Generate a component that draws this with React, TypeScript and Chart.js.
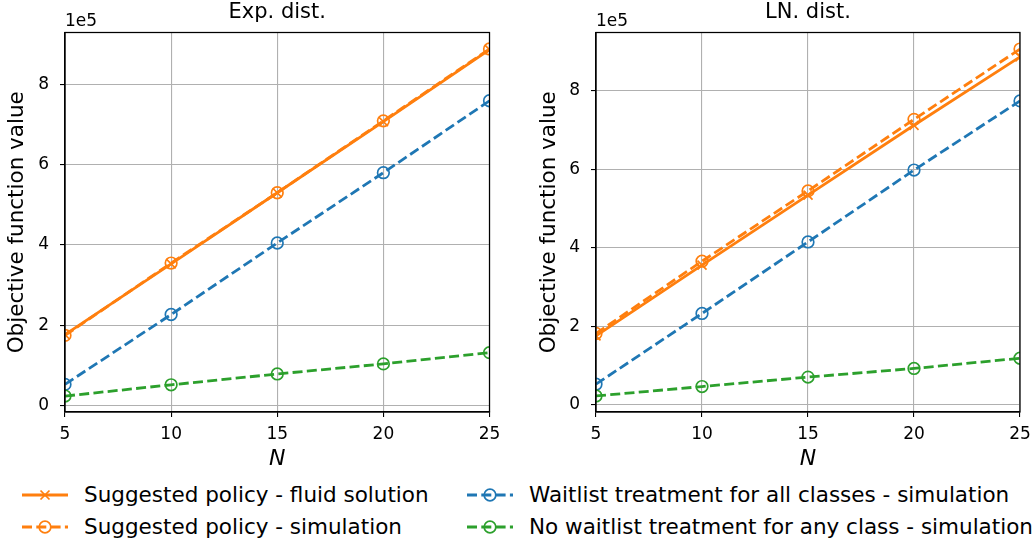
import React, { useEffect, useRef } from "react";
import { Chart, registerables } from "chart.js";

Chart.register(...registerables);

const nValues = [5, 10, 15, 20, 25];
const xTickValues = [5, 10, 15, 20, 25];
const yTickValues = [0, 200000, 400000, 600000, 800000];

const expFluid = [177000, 353000, 530000, 707000, 886000];
const expSim = [175000, 355000, 530000, 709000, 888000];
const expWaitAll = [53000, 227000, 405000, 580000, 759000];
const expNoWait = [24000, 52000, 79000, 104000, 132000];

const lnFluid = [176000, 356000, 534000, 712000, 886000];
const lnSim = [182000, 366000, 545000, 727000, 906000];
const lnWaitAll = [53000, 233000, 415000, 598000, 774000];
const lnNoWait = [23000, 47000, 71000, 93000, 119000];

const seriesLabels = [
  "Suggested policy - fluid solution",
  "Suggested policy - simulation",
  "Waitlist treatment for all classes - simulation",
  "No waitlist treatment for any class - simulation",
];

const ORANGE = "#ff7f0e";
const BLUE = "#1f77b4";
const GREEN = "#2ca02c";
const FONT = '"DejaVu Sans", sans-serif';
const DASH = [10, 4.3];
const LW = 2.8;

const framePlugin = {
  id: "frame",
  afterDatasetsDraw(chart: any, _args: any, opts: any) {
    const { ctx, chartArea: a } = chart;
    ctx.save();
    ctx.strokeStyle = "#000";
    ctx.lineWidth = 1.25;
    ctx.strokeRect(a.left, a.top, a.right - a.left, a.bottom - a.top);
    ctx.font = "17px " + FONT;
    ctx.fillStyle = "#000";
    ctx.textAlign = "left";
    ctx.textBaseline = "alphabetic";
    ctx.fillText("1e5", a.left, a.top - 6.5);
    ctx.font = "21px " + FONT;
    ctx.textAlign = "center";
    ctx.textBaseline = "middle";
    ctx.fillText(opts.title || "", (a.left + a.right) / 2, 12.8);
    ctx.restore();
  },
};

function toPts(ys: number[]) {
  return nValues.map((x, i) => ({ x, y: ys[i] }));
}

function makeDatasets(fluid: number[], sim: number[], waitAll: number[], noWait: number[]) {
  const circle = (color: string) => ({
    borderColor: color,
    backgroundColor: "rgba(0,0,0,0)",
    pointBackgroundColor: "rgba(0,0,0,0)",
    pointBorderColor: color,
    pointStyle: "circle",
    pointRadius: 5.8,
    pointBorderWidth: 1.7,
    borderWidth: LW,
    borderDash: DASH,
    clip: 0,
  });
  return [
    { label: seriesLabels[3], data: toPts(noWait), ...circle(GREEN), order: 1 },
    { label: seriesLabels[2], data: toPts(waitAll), ...circle(BLUE), order: 2 },
    { label: seriesLabels[1], data: toPts(sim), ...circle(ORANGE), order: 3 },
    {
      label: seriesLabels[0],
      data: toPts(fluid),
      borderColor: ORANGE,
      backgroundColor: "rgba(0,0,0,0)",
      pointBorderColor: ORANGE,
      pointBackgroundColor: "rgba(0,0,0,0)",
      pointStyle: "crossRot",
      pointRadius: 6.4,
      pointBorderWidth: 1.7,
      borderWidth: LW,
      clip: 0,
      order: 4,
    },
  ];
}

type PanelProps = {
  title: string;
  left: number;
  width: number;
  axisWidth: number;
  padRight: number;
  yTitlePad: number;
  yMin: number;
  yMax: number;
  fluid: number[];
  sim: number[];
  waitAll: number[];
  noWait: number[];
};

function Panel(p: PanelProps) {
  const ref = useRef<HTMLCanvasElement | null>(null);
  useEffect(() => {
    if (!ref.current) return;
    const chart = new Chart(ref.current, {
      type: "line",
      data: { datasets: makeDatasets(p.fluid, p.sim, p.waitAll, p.noWait) as any },
      options: {
        responsive: false,
        animation: false,
        devicePixelRatio: 1,
        layout: { padding: { left: 0, right: p.padRight, top: 32.5, bottom: 0 } },
        plugins: {
          legend: { display: false },
          tooltip: { enabled: false },
          title: { display: false },
          frame: { title: p.title },
        } as any,
        scales: {
          x: {
            type: "linear",
            min: 5,
            max: 25,
            afterBuildTicks: (s: any) => {
              s.ticks = xTickValues.map((v) => ({ value: v }));
            },
            afterFit: (s: any) => {
              s.height = 58;
              s.paddingLeft = 0;
              s.paddingRight = 0;
            },
            ticks: {
              color: "#000",
              font: { family: FONT, size: 17 },
              padding: 7,
              maxRotation: 0,
              callback: (v: any) => String(v),
            },
            grid: { color: "#b0b0b0", lineWidth: 1.1, tickColor: "#000", tickLength: 5, tickWidth: 1.1 },
            border: { display: true, color: "#000", width: 1.25 },
            title: {
              display: true,
              text: "N",
              color: "#000",
              font: { family: FONT, size: 22, style: "italic", lineHeight: 1 },
              padding: { top: 0, bottom: 0 },
            },
          },
          y: {
            type: "linear",
            min: p.yMin,
            max: p.yMax,
            afterBuildTicks: (s: any) => {
              s.ticks = yTickValues.map((v) => ({ value: v }));
            },
            afterFit: (s: any) => {
              s.width = p.axisWidth;
              s.paddingTop = 0;
              s.paddingBottom = 0;
            },
            ticks: {
              color: "#000",
              font: { family: FONT, size: 17 },
              padding: 11,
              callback: (v: any) => String(Math.round(Number(v) / 1e5)),
            },
            grid: { color: "#b0b0b0", lineWidth: 1.1, tickColor: "#000", tickLength: 5, tickWidth: 1.1 },
            border: { display: true, color: "#000", width: 1.25 },
            title: {
              display: true,
              text: "Objective function value",
              color: "#000",
              font: { family: FONT, size: 21.5, lineHeight: 1 },
              padding: { top: p.yTitlePad, bottom: 0 },
            },
          },
        },
      },
      plugins: [framePlugin],
    });
    return () => chart.destroy();
  }, []);
  return (
    <canvas
      ref={ref}
      width={p.width}
      height={470}
      style={{ position: "absolute", left: p.left, top: 0, width: p.width, height: 470 }}
    />
  );
}

function LegendHandle({ color, kind }: { color: string; kind: "cross" | "circle" }) {
  return (
    <svg width={46} height={20} style={{ position: "absolute", left: 0, top: -10 }}>
      <line
        x1={0}
        y1={10}
        x2={46}
        y2={10}
        stroke={color}
        strokeWidth={LW}
        strokeDasharray={kind === "circle" ? "10 4.3" : undefined}
      />
      {kind === "circle" ? (
        <circle cx={23} cy={10} r={5.8} fill="none" stroke={color} strokeWidth={1.7} />
      ) : (
        <g stroke={color} strokeWidth={1.7}>
          <line x1={18.5} y1={5.5} x2={27.5} y2={14.5} />
          <line x1={18.5} y1={14.5} x2={27.5} y2={5.5} />
        </g>
      )}
    </svg>
  );
}

function LegendItem({ x, y, color, kind, label }: any) {
  return (
    <div style={{ position: "absolute", left: x, top: y, height: 0 }}>
      <LegendHandle color={color} kind={kind} />
      <div
        style={{
          position: "absolute",
          left: 62,
          top: -13,
          whiteSpace: "nowrap",
          fontFamily: FONT,
          fontSize: 21.5,
          lineHeight: "26px",
          color: "#000",
        }}
      >
        {label}
      </div>
    </div>
  );
}

export default function App() {
  return (
    <div
      style={{
        position: "fixed",
        left: 0,
        top: 0,
        width: 1034,
        height: 544,
        background: "#fff",
        overflow: "hidden",
      }}
    >
      <Panel
        title="Exp. dist."
        left={0}
        width={517}
        axisWidth={65}
        padRight={27.5}
        yTitlePad={7}
        yMin={-15700}
        yMax={928900}
        fluid={expFluid}
        sim={expSim}
        waitAll={expWaitAll}
        noWait={expNoWait}
      />
      <Panel
        title="LN. dist."
        left={517}
        width={517}
        axisWidth={79}
        padRight={14}
        yTitlePad={22}
        yMin={-17800}
        yMax={948100}
        fluid={lnFluid}
        sim={lnSim}
        waitAll={lnWaitAll}
        noWait={lnNoWait}
      />
      <LegendItem x={22} y={495} color={ORANGE} kind="cross" label={seriesLabels[0]} />
      <LegendItem x={22} y={527} color={ORANGE} kind="circle" label={seriesLabels[1]} />
      <LegendItem x={467} y={495} color={BLUE} kind="circle" label={seriesLabels[2]} />
      <LegendItem x={467} y={527} color={GREEN} kind="circle" label={seriesLabels[3]} />
    </div>
  );
}
